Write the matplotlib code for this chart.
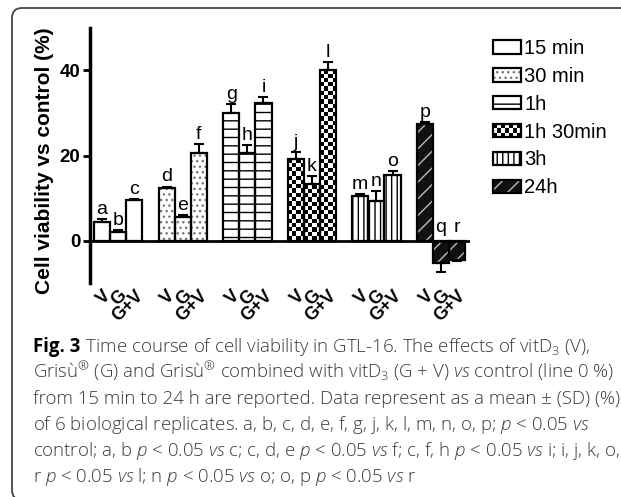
import numpy as np
import matplotlib
matplotlib.use("Agg")
import matplotlib.pyplot as plt
from matplotlib.patches import Patch, Rectangle, FancyBboxPatch
from matplotlib.legend_handler import HandlerBase
from matplotlib.transforms import IdentityTransform

plt.rcParams['font.family'] = 'Liberation Sans'
plt.rcParams['hatch.linewidth'] = 1.0
plt.rcParams['mathtext.fontset'] = 'custom'
plt.rcParams['mathtext.rm'] = 'Open Sans:light'
plt.rcParams['mathtext.it'] = 'Open Sans:italic:light'
plt.rcParams['mathtext.bf'] = 'Open Sans:bold'

# ---- data (cell viability vs control, %) ----
times = ['15 min', '30 min', '1h', '1h 30min', '3h', '24h']
treatments = ['V', 'G', 'G+V']
v_mean = [4.3, 12.4, 30.0, 19.1, 10.5, 27.5]
g_mean = [2.0, 5.6, 20.5, 13.4, 9.3, -5.4]
gv_mean = [9.6, 20.5, 32.3, 40.1, 15.4, -4.6]
v_sd = [0.7, 0.3, 2.0, 1.8, 0.5, 0.3]
g_sd = [0.5, 0.4, 2.0, 1.7, 2.3, 2.0]
gv_sd = [0.2, 2.2, 1.5, 1.9, 1.0, 0.3]
letters = list('abcdefghijklmnopqr')

# fill, hatch, hatch colour, checkerboard?
styles = [
    ('white', None, 'white', False),
    ('white', '...', '#777777', False),
    ('white', '--', 'black', False),
    ('white', None, 'white', True),
    ('white', '|||', 'black', False),
    ('#111111', '//', '#bbbbbb', False),
]

caption = [
    r" Time course of cell viability in GTL-16. The effects of vitD$_3$ (V),",
    "Gris\u00f9$^{\\mathrm{\u00ae}}$ (G) and Gris\u00f9$^{\\mathrm{\u00ae}}$ combined with vitD$_3$ (G + V) $vs$ control (line 0 %)",
    "from 15 min to 24 h are reported. Data represent as a mean \u00b1 (SD) (%)",
    r"of 6 biological replicates. a, b, c, d, e, f, g, j, k, l, m, n, o, p; $p$ < 0.05 $vs$",
    r"control; a, b $p$ < 0.05 $vs$ c; c, d, e $p$ < 0.05 $vs$ f; c, f, h $p$ < 0.05 $vs$ i; i, j, k, o,",
    r"r $p$ < 0.05 $vs$ l; n $p$ < 0.05 $vs$ o; o, p $p$ < 0.05 $vs$ r",
]


class CheckerKey:
    pass


class HandlerChecker(HandlerBase):
    def create_artists(self, legend, orig_handle, xdescent, ydescent,
                       width, height, fontsize, trans):
        nx, ny = 7, 3
        cw, ch = width / nx, height / ny
        arts = [Rectangle((-xdescent, -ydescent), width, height,
                          facecolor='white', edgecolor='none', transform=trans)]
        for i in range(nx):
            for j in range(ny):
                if (i + j) % 2 == 0:
                    arts.append(Rectangle((-xdescent + i * cw, -ydescent + j * ch), cw, ch,
                                          facecolor='black', edgecolor='none',
                                          transform=trans))
        return arts


def add_checker(ax, rect, sq_w=0.25, sq_h=1.0):
    x0, w, h = rect.get_x(), rect.get_width(), rect.get_height()
    nx = int(round(w / sq_w))
    ny = int(np.ceil(abs(h) / sq_h))
    grid = np.add.outer(np.arange(ny), np.arange(nx)) % 2
    im = ax.imshow(grid, cmap='gray', vmin=0, vmax=1, origin='lower',
                   extent=(x0, x0 + w, 0, np.sign(h) * ny * sq_h),
                   interpolation='nearest', aspect='auto', zorder=1.5)
    im.set_clip_path(rect)


W, H = 621, 497
fig = plt.figure(figsize=(W / 100, H / 100), dpi=100)
ax = fig.add_axes([90 / W, (H - 283) / H, 380 / W, 255 / H])

means = np.array([v_mean, g_mean, gv_mean]).T
sds = np.array([v_sd, g_sd, gv_sd]).T
xpos = np.arange(len(times))[:, None] * 4 + np.arange(len(treatments))[None, :] + 0.5

for i, (face, hatch, hcol, checker) in enumerate(styles):
    xs, vals, err = xpos[i], means[i], sds[i]
    fill = ax.bar(xs, vals, width=1, color=face, hatch=hatch, edgecolor=hcol,
                  linewidth=0, zorder=1)
    if checker:
        for rect in fill:
            add_checker(ax, rect)
    ax.bar(xs, vals, width=1, facecolor='none', edgecolor='black', linewidth=1.6, zorder=2)
    lower = np.where(vals < 0, err, 0)
    upper = np.where(vals > 0, err, 0)
    ax.errorbar(xs, vals, yerr=[lower, upper], fmt='none', ecolor='black',
                elinewidth=1.5, capsize=3.5, capthick=1.5, zorder=3)
    for x, v, e, lab in zip(xs, vals, err, letters[3 * i:3 * i + 3]):
        ax.text(x, max(v + e, 0.8) + 1.2, lab, ha='center', va='baseline', fontsize=14)

ax.axhline(0, color='black', lw=2, zorder=4)

ax.set_xlim(-0.25, 23.3)
ax.set_ylim(-10, 50)
ax.set_xticks(xpos.ravel())
ax.set_xticklabels(treatments * len(times), rotation=45, ha='right', va='top',
                   rotation_mode='anchor', fontweight='bold', fontsize=13)
ax.tick_params(axis='x', length=0, pad=3)
ax.set_yticks([0, 20, 40])
ax.set_yticklabels(['0', '20', '40'], fontweight='bold', fontsize=13.5)
ax.tick_params(axis='y', width=2, length=5, pad=2)
for s in ['top', 'right', 'bottom']:
    ax.spines[s].set_visible(False)
ax.spines['left'].set_linewidth(2.5)
ax.set_ylabel('Cell viability vs control (%)', fontweight='bold', fontsize=15)
ax.yaxis.set_label_coords(-0.095, 0.48)

# legend
handles = []
for face, hatch, hcol, checker in styles:
    outline = Patch(facecolor='none', edgecolor='black', linewidth=1.6)
    if checker:
        handles.append((CheckerKey(), outline))
    else:
        handles.append((Patch(facecolor=face, hatch=hatch, edgecolor=hcol, linewidth=0), outline))
fig.legend(handles, times, loc='upper left', bbox_to_anchor=(493 / W, (H - 39) / H),
           frameon=False, fontsize=14.5, handlelength=1.4, handleheight=0.65,
           handletextpad=0.15, labelspacing=0.44, borderpad=0, borderaxespad=0,
           handler_map={CheckerKey: HandlerChecker()})

# outer rounded frame
fig.add_artist(FancyBboxPatch((12, -3), 640, 492, boxstyle='round,pad=0,rounding_size=10',
                              transform=IdentityTransform(), fill=False,
                              edgecolor='#444444', linewidth=1.3))

# caption
cap_size = 13.4
fig_lab = fig.text(33 / W, (H - 352) / H, 'Fig. 3', fontsize=cap_size, fontweight='bold',
                   family='Open Sans', color='black', va='baseline')
lines = []
for k, line in enumerate(caption):
    lines.append(fig.text(33 / W, (H - 352 - 26 * k) / H, line, fontsize=cap_size,
                          family='Open Sans', fontweight='light', color='#3a3a3a',
                          va='baseline'))
fig.canvas.draw()
x1 = fig_lab.get_window_extent().x1
lines[0].set_x((x1 + 1) / W)

fig.savefig('out.png', dpi=100)
